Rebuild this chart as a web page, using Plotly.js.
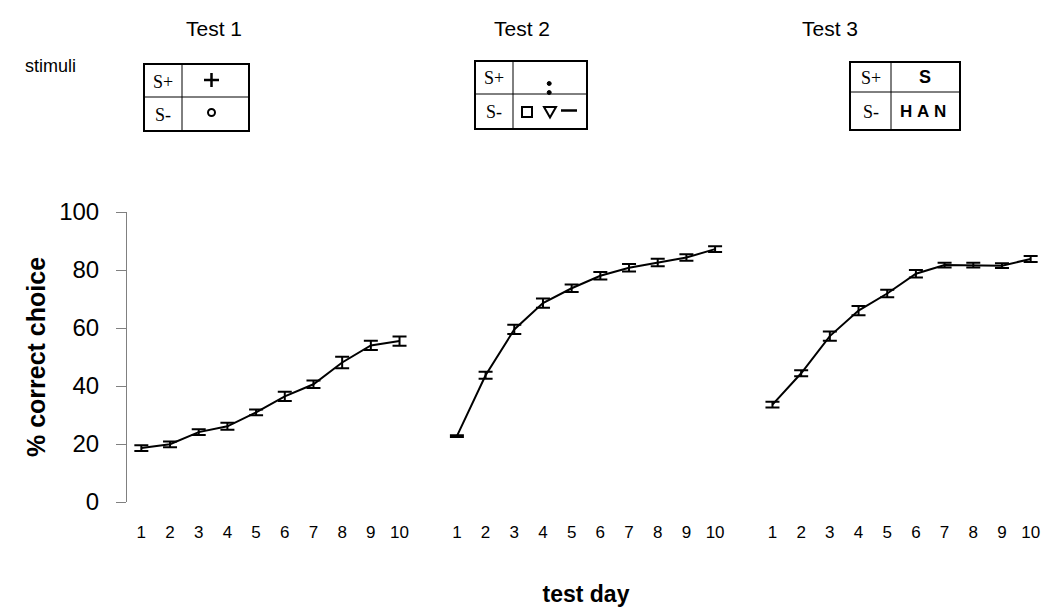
<!DOCTYPE html>
<html>
<head>
<meta charset="utf-8">
<script src="https://cdn.plot.ly/plotly-3.0.1.min.js"></script>
<style>html,body{margin:0;padding:0;background:#fff;}#chart{width:1045px;height:613px;}</style>
</head>
<body>
<div id="chart"></div>
<script>
// ---- data ----
const days = [1,2,3,4,5,6,7,8,9,10];
const testNames = ["Test 1","Test 2","Test 3"];
const test1 = [18.6, 19.9, 24.1, 26.1, 30.9, 36.4, 40.6, 48.1, 54.0, 55.5];
const test2 = [22.7, 43.7, 59.5, 68.6, 73.7, 78.0, 80.8, 82.6, 84.3, 87.2];
const test3 = [33.6, 44.4, 57.2, 66.0, 71.9, 78.7, 81.7, 81.7, 81.5, 83.8];
const err1 = [1.0, 1.0, 1.0, 1.2, 1.0, 1.6, 1.3, 2.0, 1.6, 1.6];
const err2 = [0.3, 1.2, 1.6, 1.6, 1.3, 1.3, 1.3, 1.3, 1.1, 1.0];
const err3 = [1.0, 1.0, 1.6, 1.6, 1.3, 1.3, 0.8, 0.8, 0.8, 1.0];
const yTicks = [0, 20, 40, 60, 80, 100];

const series = [test1, test2, test3];
const errs = [err1, err2, err3];
const gap = 1; // empty slot between test blocks

// ---- layout helpers (pixel -> paper) ----
const W = 1045, H = 613;
const L = 127, R = 0, T = 212, B = 111;
const pw = W - L - R, ph = H - T - B;
const px = v => (v - L) / pw;
const py = v => (H - B - v) / ph;
const SANS = 'Liberation Sans, Arial, sans-serif';
const SERIF = 'Liberation Serif, Times New Roman, serif';

const traces = [];
const tickvals = [], ticktext = [];
series.forEach((s, k) => {
  const off = k * (days.length + gap);
  const xs = days.map((d, i) => off + i);
  xs.forEach((x, i) => { tickvals.push(x); ticktext.push(String(days[i])); });
  traces.push({
    type: 'scatter', mode: 'lines', x: xs, y: s,
    line: {color: '#000', width: 2},
    error_y: {type: 'data', array: errs[k], visible: true, color: '#000', thickness: 2, width: 7},
    hoverinfo: 'skip', showlegend: false, cliponaxis: false
  });
});

const shapes = [];
const annotations = [];
function rectPx(x0, y0, x1, y1, w) {
  shapes.push({type:'rect', xref:'paper', yref:'paper', x0:px(x0), x1:px(x1), y0:py(y1), y1:py(y0),
    line:{color:'#000', width:w}, fillcolor:'rgba(0,0,0,0)'});
}
function linePx(x0, y0, x1, y1, w) {
  shapes.push({type:'line', xref:'paper', yref:'paper', x0:px(x0), x1:px(x1), y0:py(y0), y1:py(y1),
    line:{color:'#000', width:w}});
}
function textPx(x, y, t, size, family, bold) {
  annotations.push({xref:'paper', yref:'paper', x:px(x), y:py(y), text: bold ? '<b>'+t+'</b>' : t,
    showarrow:false, xanchor:'center', yanchor:'middle',
    font:{family: family, size: size, color:'#000'}});
}
// stimulus boxes: [left, top, right, bottom, vDivider, hDivider]
const boxes = [
  [144, 64, 249, 131, 182, 97],
  [475, 61, 587, 129, 513, 94],
  [850, 62, 960, 130, 891, 92]
];
boxes.forEach(b => {
  rectPx(b[0], b[1], b[2], b[3], 2);
  linePx(b[4], b[1], b[4], b[3], 1);
  linePx(b[0], b[5], b[2], b[5], 1);
  const cx = (b[0] + b[4]) / 2;
  textPx(cx, (b[1] + b[5]) / 2 + 1, 'S+', 18, SERIF, false);
  textPx(cx, (b[5] + b[3]) / 2 + 1, 'S-', 18, SERIF, false);
});
// Test 1 symbols: plus and circle
linePx(204, 80, 219, 80, 2.5);
linePx(211.5, 73, 211.5, 87, 2.5);
shapes.push({type:'circle', xref:'paper', yref:'paper', x0:px(208), x1:px(215), y0:py(116), y1:py(109),
  line:{color:'#000', width:2}, fillcolor:'rgba(0,0,0,0)'});
// Test 2 symbols: colon, square, triangle, dash
[83.5, 92.5].forEach(cy => shapes.push({type:'circle', xref:'paper', yref:'paper',
  x0:px(547.2), x1:px(551.2), y0:py(cy+2), y1:py(cy-2), line:{color:'#000', width:1}, fillcolor:'#000'}));
rectPx(522, 107, 532, 117, 2);
shapes.push({type:'path', xref:'paper', yref:'paper',
  path:`M ${px(544)} ${py(107)} L ${px(556)} ${py(107)} L ${px(550)} ${py(117.5)} Z`,
  line:{color:'#000', width:2}, fillcolor:'rgba(0,0,0,0)'});
linePx(561, 110.5, 577, 110.5, 2.5);
// Test 3 letters
textPx(925, 77, 'S', 18, SANS, true);
textPx(923, 111, 'H\u00a0A\u00a0N', 17, SANS, true);

// headers
const headerX = [214, 522, 830];
testNames.forEach((t, i) => textPx(headerX[i], 28, t, 21, SANS, false));
textPx(50, 66, 'stimuli', 18, SANS, false);

const layout = {
  width: W, height: H,
  margin: {l: L, r: R, t: T, b: B},
  paper_bgcolor: '#fff', plot_bgcolor: '#fff',
  font: {family: SANS, color: '#000'},
  xaxis: {
    range: [-0.5, series.length * days.length + (series.length - 1) * gap - 0.5],
    tickmode: 'array', tickvals: tickvals, ticktext: ticktext,
    showline: false, showgrid: false, zeroline: false, ticks: '',
    ticklabelstandoff: 18,
    tickfont: {size: 17, family: SANS},
    title: {text: '<b>test day</b>', font: {size: 23}, standoff: 44}
  },
  yaxis: {
    range: [0, 100], tickmode: 'array', tickvals: yTicks,
    showline: true, linecolor: '#808080', linewidth: 1,
    ticks: 'outside', ticklen: 10, tickcolor: '#808080',
    showgrid: false, zeroline: false,
    ticklabelstandoff: 12,
    tickfont: {size: 24, family: SANS},
    title: {text: '<b>% correct choice</b>', font: {size: 25}, standoff: 6}
  },
  shapes: shapes, annotations: annotations
};
Plotly.newPlot('chart', traces, layout, {staticPlot: true, displayModeBar: false});
</script>
</body>
</html>
